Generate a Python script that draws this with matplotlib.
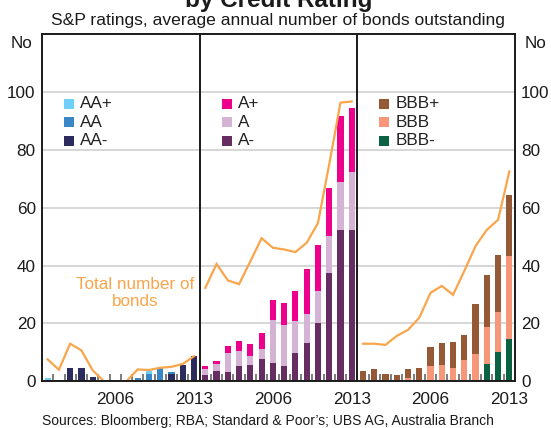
import matplotlib
matplotlib.use('Agg')
import matplotlib.pyplot as plt
from matplotlib.patches import Rectangle
import numpy as np

plt.rcParams['font.family'] = ['Liberation Sans', 'DejaVu Sans']

years = list(range(2000, 2014))
tick_years = [2006, 2013]

# Panel 1: AA ratings
aa_plus = [0.8, 0, 0, 0, 0, 0, 0, 0, 0, 1.0, 0, 0, 0, 0]
aa = [0.5, 0, 0, 0, 0, 0, 0, 0, 1.2, 2.5, 4.5, 0.8, 0, 0]
aa_minus = [0, 0.3, 4.6, 4.6, 1.5, 0, 0, 0, 0, 0, 0, 2.5, 5.5, 8.7]
aa_total = [7.6, 4.0, 13.0, 10.7, 3.8, 0, 0, 0, 4.1, 3.9, 4.7, 5.0, 6.0, 8.7]

# Panel 2: A ratings
a_plus = [1.15, 1.0, 2.4, 3.4, 4.2, 5.6, 6.9, 7.6, 10.3, 15.5, 15.9, 16.9, 22.7, 22.1]
a_mid = [2.05, 2.4, 6.6, 5.2, 3.1, 3.4, 14.8, 14.1, 11.0, 10.0, 11.0, 12.7, 16.6, 20.3]
a_minus = [2.2, 3.6, 3.2, 5.3, 5.6, 7.7, 6.3, 5.3, 9.8, 13.2, 20.1, 37.4, 52.5, 52.2]
a_total = [32.3, 40.6, 34.9, 33.6, 41.5, 49.5, 46.2, 45.6, 44.7, 47.9, 54.7, 75.0, 96.4, 96.8]

# Panel 3: BBB ratings
bbb_plus = [3.1, 3.8, 2.5, 1.8, 3.2, 4.1, 6.5, 7.6, 9.0, 8.6, 17.3, 18.0, 19.7, 21.4]
bbb = [0.5, 0.5, 0, 0.4, 1.1, 0.5, 5.3, 5.6, 4.6, 7.4, 8.8, 12.7, 13.8, 28.6]
bbb_minus = [0, 0, 0, 0, 0, 0, 0, 0, 0, 0, 0.6, 6.0, 10.1, 14.6]
bbb_total = [13.0, 13.0, 12.6, 15.7, 17.8, 22.0, 30.6, 33.0, 29.9, 38.2, 46.8, 52.4, 55.9, 72.6]

panels = [
    (['AA+', 'AA', 'AA-'], [aa_plus, aa, aa_minus], ['#6DCFF6', '#3A87C8', '#2B2B5E'], aa_total),
    (['A+', 'A', 'A-'], [a_plus, a_mid, a_minus], ['#EC008C', '#D5B3D5', '#662D62'], a_total),
    (['BBB+', 'BBB', 'BBB-'], [bbb_plus, bbb, bbb_minus], ['#955A35', '#F7977A', '#0B6242'], bbb_total),
]
line_color = '#F9A54C'

W, H = 551, 428
fig = plt.figure(figsize=(W / 100, H / 100), dpi=100)
ax_l, ax_r, ax_t, ax_b = 42, 515, 34.4, 381.3
ax = fig.add_axes([ax_l / W, 1 - ax_b / H, (ax_r - ax_l) / W, (ax_b - ax_t) / H])

n = len(years)
ax.set_xlim(0, 3 * n)
ax.set_ylim(0, 120)

fs = 12.3
for p, (labels, series, colors, total) in enumerate(panels):
    x = p * n + np.arange(n) + 0.5
    bottom = np.zeros(n)
    # stack from bottom: minus, mid, plus
    for lab, vals, col in reversed(list(zip(labels, series, colors))):
        v = np.array(vals, dtype=float)
        ax.bar(x, v, width=0.55, bottom=bottom, color=col, zorder=3, linewidth=0)
        bottom += v
    ax.plot(x, total, color=line_color, lw=1.6, zorder=4, solid_joinstyle='miter')
    # legend
    for k, (lab, col) in enumerate(zip(labels, colors)):
        yc = 104 + k * 18.5
        x0 = p * n + 22 / 11.26
        sq_w = 10 / 11.26
        sq_h = 10 / 2.89
        yv = (ax_b - yc) / 2.89
        ax.add_patch(Rectangle((x0, yv - sq_h / 2), sq_w, sq_h, facecolor=col,
                               edgecolor='none', zorder=5))
        ax.text(x0 + 16 / 11.26, yv, lab, fontsize=fs, va='center', ha='left',
                color='#222222', zorder=5)

for d in [n, 2 * n]:
    ax.axvline(d, color='#1a1a1a', lw=1.4, zorder=6)

ax.set_yticks([0, 20, 40, 60, 80, 100])
ax.yaxis.grid(True, color='#cccccc', lw=1.1, zorder=0)
ax.set_axisbelow(True)
ax.tick_params(axis='y', length=0, labelsize=fs, pad=4.5, labelright=True,
               labelcolor='#1a1a1a')

major_x = []
major_lab = []
for p in range(3):
    for ty in tick_years:
        major_x.append(p * n + years.index(ty) + 0.5)
        major_lab.append(str(ty))
ax.set_xticks(major_x)
ax.set_xticklabels(major_lab)
ax.set_xticks(np.arange(1, 3 * n), minor=True)
ax.tick_params(axis='x', which='major', length=0, labelsize=fs, pad=8,
               labelcolor='#1a1a1a')
ax.tick_params(axis='x', which='minor', direction='in', length=5, width=1.2,
               color='#666666')

for s in ax.spines.values():
    s.set_color('#1a1a1a')
    s.set_linewidth(1.4)
    s.set_zorder(7)

ax.text((135 - ax_l) / 11.26, (ax_b - 293) / 2.89, 'Total number of\nbonds',
        color=line_color, fontsize=fs, ha='center', va='center', linespacing=1.15,
        zorder=5)

fig.text(22 / W, 1 - 44 / H, 'No', fontsize=fs, ha='center', va='center', color='#1a1a1a')
fig.text(535 / W, 1 - 44 / H, 'No', fontsize=fs, ha='center', va='center', color='#1a1a1a')

fig.text(279 / W, 1 - 7 / H, 'by Credit Rating', fontsize=17.5, fontweight='bold',
         ha='center', va='baseline', color='#1a1a1a')
fig.text(277.5 / W, 1 - 24.8 / H, 'S&P ratings, average annual number of bonds outstanding',
         fontsize=12.6, ha='center', va='baseline', color='#1a1a1a')
fig.text(ax_l / W, 1 - 424.5 / H,
         "Sources: Bloomberg; RBA; Standard & Poor\u2019s; UBS AG, Australia Branch",
         fontsize=10, ha='left', va='baseline', color='#1a1a1a')

fig.savefig('out.png', dpi=100)
